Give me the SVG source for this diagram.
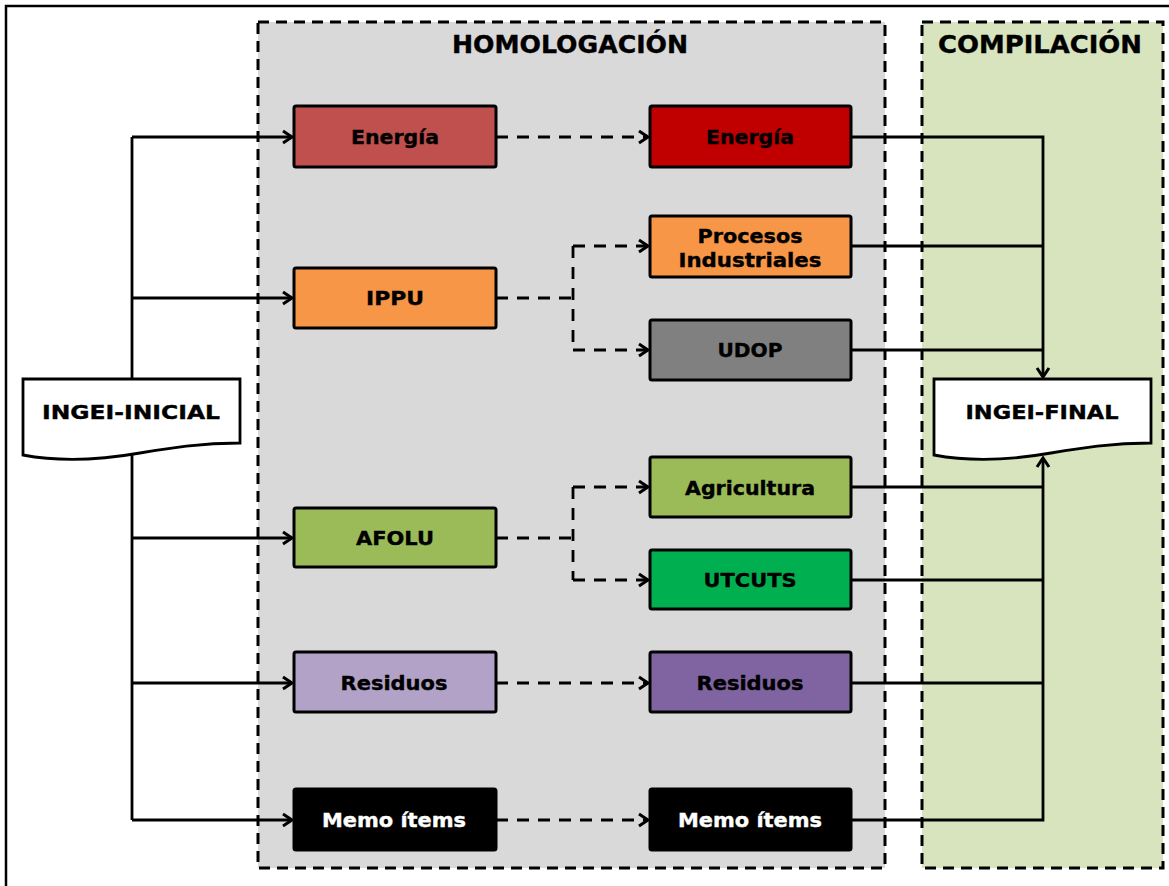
<svg xmlns="http://www.w3.org/2000/svg" width="1169" height="886" viewBox="0 0 1169 886">
<defs>
<marker id="arr" markerUnits="userSpaceOnUse" markerWidth="14" markerHeight="16" refX="11" refY="7" orient="auto" viewBox="0 0 14 14">
<path d="M2,1 L11,7 L2,13" fill="none" stroke="#000" stroke-width="3"/>
</marker>
</defs>
<style>
.t{font-family:"DejaVu Sans","Liberation Sans",sans-serif;font-weight:bold;font-size:20px;text-anchor:middle;fill:#000;stroke:#000;stroke-width:0.4}
.tw{fill:#fff;stroke:#fff}
.ttl{font-size:25px}
.box{stroke:#000;stroke-width:3}
.cont{stroke:#000;stroke-width:3;stroke-dasharray:11 7}
.solid{fill:none;stroke:#000;stroke-width:2.8}
.dash{fill:none;stroke:#000;stroke-width:2.8;stroke-dasharray:12 9}
.doc{fill:#fff;stroke:#000;stroke-width:2.8}
</style>
<rect x="0" y="0" width="1169" height="886" fill="#fff"/>
<rect x="6" y="6" width="1175" height="900" fill="none" stroke="#000" stroke-width="2.5"/>

<g id="homologacion">
<rect class="cont" x="258" y="22" width="627" height="846" fill="#d9d9d9"/>
<text class="t ttl" x="570" y="53" textLength="236" lengthAdjust="spacingAndGlyphs">HOMOLOGACIÓN</text>
</g>
<g id="compilacion">
<rect class="cont" x="922" y="22" width="241" height="846" fill="#d7e4bd"/>
<text class="t ttl" x="1040" y="53" textLength="204" lengthAdjust="spacingAndGlyphs">COMPILACIÓN</text>
</g>

<g id="connectors">
<path class="solid" d="M132,137 V820"/>
<path class="solid" d="M132,137 H292" marker-end="url(#arr)"/>
<path class="solid" d="M132,298 H292" marker-end="url(#arr)"/>
<path class="solid" d="M132,538 H292" marker-end="url(#arr)"/>
<path class="solid" d="M132,683 H292" marker-end="url(#arr)"/>
<path class="solid" d="M132,820 H292" marker-end="url(#arr)"/>

<path class="dash" d="M496,137 H648" marker-end="url(#arr)"/>
<path class="dash" d="M496,298 H573"/>
<path class="dash" d="M573,246 V350"/>
<path class="dash" d="M573,246 H648" marker-end="url(#arr)"/>
<path class="dash" d="M573,350 H648" marker-end="url(#arr)"/>
<path class="dash" d="M496,538 H573"/>
<path class="dash" d="M573,487 V580"/>
<path class="dash" d="M573,487 H648" marker-end="url(#arr)"/>
<path class="dash" d="M573,580 H648" marker-end="url(#arr)"/>
<path class="dash" d="M496,683 H648" marker-end="url(#arr)"/>
<path class="dash" d="M496,820 H648" marker-end="url(#arr)"/>

<path class="solid" d="M851,137 H1043 V377" marker-end="url(#arr)"/>
<path class="solid" d="M851,246 H1043"/>
<path class="solid" d="M851,350 H1043"/>
<path class="solid" d="M851,820 H1043 V458" marker-end="url(#arr)"/>
<path class="solid" d="M851,487 H1043"/>
<path class="solid" d="M851,580 H1043"/>
<path class="solid" d="M851,683 H1043"/>
</g>

<g id="ingei-inicial">
<path class="doc" d="M23,379 H240 V443 C200,443 170,448 140,453 C100,460 60,462 23,455 Z"/>
<text class="t" x="131" y="419" textLength="178" lengthAdjust="spacingAndGlyphs">INGEI-INICIAL</text>
</g>
<g id="ingei-final">
<path class="doc" d="M934,379 H1151 V443 C1111,443 1081,448 1051,453 C1011,460 971,462 934,455 Z"/>
<text class="t" x="1042" y="419" textLength="153" lengthAdjust="spacingAndGlyphs">INGEI-FINAL</text>
</g>

<g id="energia-h">
<rect class="box" x="294" y="106" width="202" height="61" rx="2" fill="#c0504d"/>
<text class="t" x="395" y="144" textLength="88" lengthAdjust="spacingAndGlyphs">Energía</text>
</g>
<g id="ippu">
<rect class="box" x="294" y="268" width="202" height="60" rx="2" fill="#f79646"/>
<text class="t" x="395" y="305" textLength="58" lengthAdjust="spacingAndGlyphs">IPPU</text>
</g>
<g id="afolu">
<rect class="box" x="294" y="508" width="202" height="59" rx="2" fill="#9bbb59"/>
<text class="t" x="395" y="545" textLength="78" lengthAdjust="spacingAndGlyphs">AFOLU</text>
</g>
<g id="residuos-h">
<rect class="box" x="294" y="652" width="202" height="60" rx="2" fill="#b3a2c7"/>
<text class="t" x="394" y="690" textLength="107" lengthAdjust="spacingAndGlyphs">Residuos</text>
</g>
<g id="memo-h">
<rect class="box" x="294" y="789" width="202" height="61" rx="2" fill="#000"/>
<text class="t tw" x="394" y="827" textLength="144" lengthAdjust="spacingAndGlyphs">Memo ítems</text>
</g>

<g id="energia-c">
<rect class="box" x="650" y="106" width="201" height="61" rx="2" fill="#c00000"/>
<text class="t" x="750" y="144" textLength="88" lengthAdjust="spacingAndGlyphs">Energía</text>
</g>
<g id="procesos">
<rect class="box" x="650" y="216" width="201" height="61" rx="2" fill="#f79646"/>
<text class="t" x="750" y="243" textLength="105" lengthAdjust="spacingAndGlyphs">Procesos</text>
<text class="t" x="750" y="267" textLength="143" lengthAdjust="spacingAndGlyphs">Industriales</text>
</g>
<g id="udop">
<rect class="box" x="650" y="320" width="201" height="60" rx="2" fill="#808080"/>
<text class="t" x="750" y="357" textLength="65" lengthAdjust="spacingAndGlyphs">UDOP</text>
</g>
<g id="agricultura">
<rect class="box" x="650" y="457" width="201" height="60" rx="2" fill="#9bbb59"/>
<text class="t" x="750" y="495" textLength="130" lengthAdjust="spacingAndGlyphs">Agricultura</text>
</g>
<g id="utcuts">
<rect class="box" x="650" y="550" width="201" height="59" rx="2" fill="#00b050"/>
<text class="t" x="750" y="587" textLength="93" lengthAdjust="spacingAndGlyphs">UTCUTS</text>
</g>
<g id="residuos-c">
<rect class="box" x="650" y="652" width="201" height="60" rx="2" fill="#8064a2"/>
<text class="t" x="750" y="690" textLength="107" lengthAdjust="spacingAndGlyphs">Residuos</text>
</g>
<g id="memo-c">
<rect class="box" x="650" y="789" width="201" height="61" rx="2" fill="#000"/>
<text class="t tw" x="750" y="827" textLength="144" lengthAdjust="spacingAndGlyphs">Memo ítems</text>
</g>
</svg>
